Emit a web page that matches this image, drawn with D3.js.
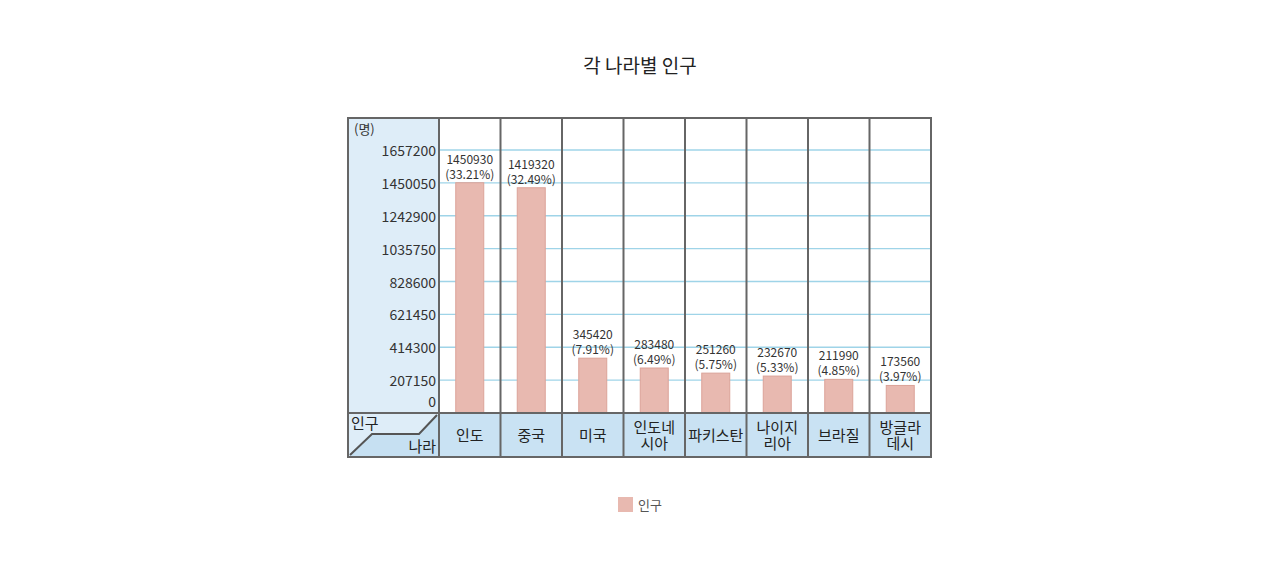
<!DOCTYPE html><html><head><meta charset="utf-8"><script src="https://d3js.org/d3.v7.min.js"></script>
<style>body{margin:0;background:#fff}text{font-family:"Noto Sans CJK KR","Noto Sans",sans-serif}</style></head><body>
<svg id="c" width="1280" height="575"></svg>
<script>
const countries=[["인도"],["중국"],["미국"],["인도네","시아"],["파키스탄"],["나이지","리아"],["브라질"],["방글라","데시"]];
const values=[1450930,1419320,345420,283480,251260,232670,211990,173560];
const percents=["33.21%","32.49%","7.91%","6.49%","5.75%","5.33%","4.85%","3.97%"];
const ticks=[0,207150,414300,621450,828600,1035750,1242900,1450050,1657200];
const svg=d3.select("#c");
const L=348,R=931,T=118,B=457,LC=439,PB=413;
const x=d3.scaleBand().domain(d3.range(values.length)).range([LC,R]);
const y=d3.scaleLinear().domain([0,1657200]).range([PB,150]);
svg.append("text").attr("x",640).attr("y",73).attr("text-anchor","middle").attr("font-size",19).attr("fill","#222").text("각 나라별 인구");
svg.append("rect").attr("x",L).attr("y",T).attr("width",LC-L).attr("height",PB-T).attr("fill","#deedf8");
svg.append("rect").attr("x",L).attr("y",PB).attr("width",LC-L).attr("height",B-PB).attr("fill","#deedf8");
svg.append("path").attr("d",`M${L},${B}L372,434L419,434L${LC},${PB}L${LC},${B}Z`).attr("fill","#c6e0f2");
svg.append("path").attr("d",`M${L+2},${B-2}L372,434L419,434L${LC-2},${PB+2}`).attr("fill","none").attr("stroke","#555").attr("stroke-width",2);
svg.append("rect").attr("x",LC).attr("y",PB).attr("width",R-LC).attr("height",B-PB).attr("fill","#c9e2f3");
svg.selectAll(".g").data(ticks.slice(1)).join("line").attr("x1",LC).attr("x2",R).attr("y1",d=>y(d)).attr("y2",d=>y(d)).attr("stroke","#9fd4e8").attr("stroke-width",1.3);
svg.selectAll(".tl").data(ticks).join("text").attr("x",436).attr("y",d=>y(d)+(d===0?-6:6)).attr("text-anchor","end").attr("font-size",14).attr("fill","#333").text(d=>d);
svg.append("text").attr("x",354).attr("y",134).attr("font-size",13).attr("fill","#333").text("(명)");
svg.selectAll(".b").data(values).join("rect").attr("x",(d,i)=>x(i)+x.bandwidth()/2-14).attr("width",28).attr("y",d=>y(d)).attr("height",d=>PB-y(d)).attr("fill","#e8b9b0").attr("stroke","#dba399");
values.forEach((v,i)=>{const cx=x(i)+x.bandwidth()/2;
 svg.append("text").attr("x",cx).attr("y",y(v)-19).attr("text-anchor","middle").attr("font-size",12).attr("fill","#333").text(v);
 svg.append("text").attr("x",cx).attr("y",y(v)-4).attr("text-anchor","middle").attr("font-size",12).attr("fill","#333").text("("+percents[i]+")");
 const lines=countries[i];
 lines.forEach((t,j)=>svg.append("text").attr("x",cx).attr("y",PB+28+(j-(lines.length-1)/2)*16).attr("text-anchor","middle").attr("font-size",15).attr("fill","#222").text(t));
});
svg.append("text").attr("x",351).attr("y",429).attr("font-size",15).attr("fill","#222").text("인구");
svg.append("text").attr("x",436).attr("y",452).attr("text-anchor","end").attr("font-size",15).attr("fill","#222").text("나라");
d3.range(values.length+1).forEach(i=>{const xx=i<values.length?x(i):R;svg.append("line").attr("x1",xx).attr("x2",xx).attr("y1",T).attr("y2",B).attr("stroke","#666").attr("stroke-width",2);});
svg.append("line").attr("x1",L).attr("x2",R).attr("y1",PB).attr("y2",PB).attr("stroke","#666").attr("stroke-width",2);
svg.append("rect").attr("x",L).attr("y",T).attr("width",R-L).attr("height",B-T).attr("fill","none").attr("stroke","#666").attr("stroke-width",2);
svg.append("rect").attr("x",618).attr("y",497).attr("width",15).attr("height",15).attr("fill","#e8b9b0");
svg.append("text").attr("x",638).attr("y",510).attr("font-size",13).attr("fill","#555").text("인구");
</script></body></html>
